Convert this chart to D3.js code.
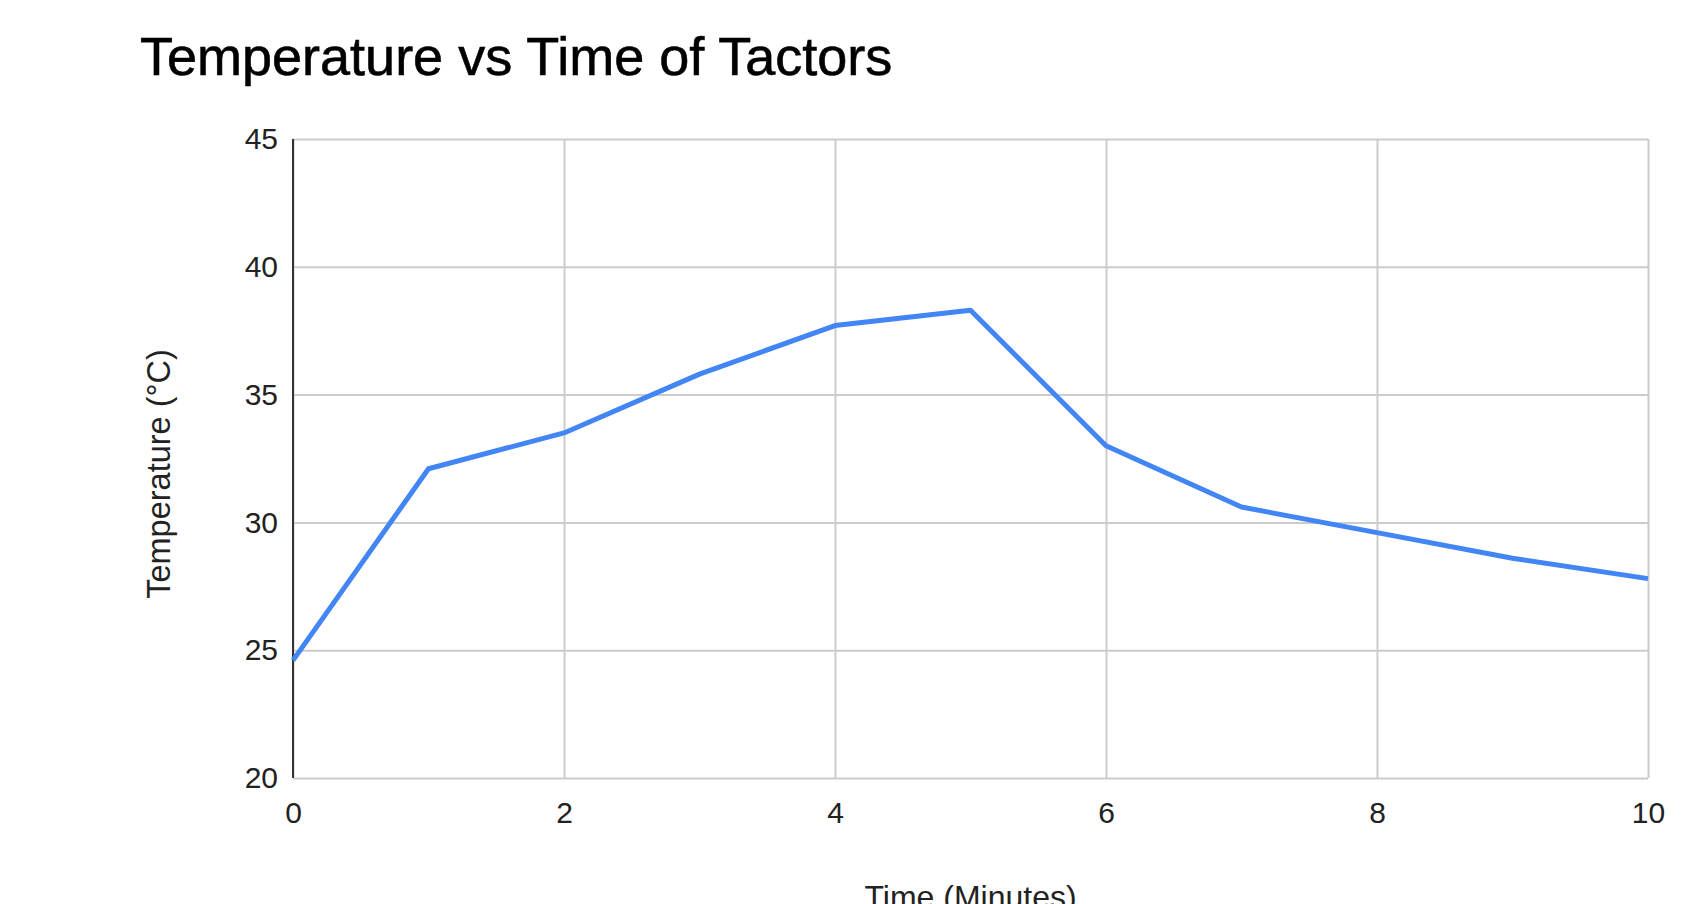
<!DOCTYPE html>
<html>
<head>
<meta charset="utf-8">
<script src="https://cdn.jsdelivr.net/npm/d3@7"></script>
<style>
  body { margin: 0; background: #fff; }
  text { font-family: "Liberation Sans", Arial, sans-serif; }
</style>
</head>
<body>
<div id="chart"></div>
<script>
const minutes = [0, 1, 2, 3, 4, 5, 6, 7, 8, 9, 10];
const temps = [24.6, 32.1, 33.5, 35.8, 37.7, 38.3, 33.0, 30.6, 29.6, 28.6, 27.8];
const xTicks = [0, 2, 4, 6, 8, 10];
const yTicks = [20, 25, 30, 35, 40, 45];

const width = 1689, height = 904;
const margin = { top: 139, right: 41, bottom: 126, left: 293 };
const innerW = width - margin.left - margin.right;
const innerH = height - margin.top - margin.bottom;

const svg = d3.select("#chart").append("svg")
  .attr("width", width)
  .attr("height", height);

svg.append("text")
  .attr("x", 140)
  .attr("y", 75)
  .attr("font-size", 54)
  .attr("fill", "#000")
  .attr("stroke", "#000")
  .attr("stroke-width", 0.6)
  .text("Temperature vs Time of Tactors");

const g = svg.append("g")
  .attr("transform", `translate(${margin.left},${margin.top})`);

const x = d3.scaleLinear().domain([0, 10]).range([0, innerW]);
const y = d3.scaleLinear().domain([20, 45]).range([innerH, 0]);

// horizontal grid + y labels
const yAxis = g.append("g")
  .call(d3.axisLeft(y).tickValues(yTicks).tickSize(-innerW).tickPadding(15));
yAxis.select(".domain").remove();
yAxis.selectAll("line").attr("stroke", "#cccccc").attr("stroke-width", 2);
yAxis.selectAll("text").attr("font-size", 30).attr("fill", "#222")
  .attr("font-family", "Liberation Sans, Arial, sans-serif");

// vertical grid + x labels
const xAxis = g.append("g")
  .attr("transform", `translate(0,${innerH})`)
  .call(d3.axisBottom(x).tickValues(xTicks).tickSize(-innerH).tickPadding(24));
xAxis.select(".domain").remove();
xAxis.selectAll("line").attr("stroke", "#cccccc").attr("stroke-width", 2);
xAxis.selectAll("text").attr("font-size", 30).attr("fill", "#222")
  .attr("font-family", "Liberation Sans, Arial, sans-serif");

// left axis line
g.append("line")
  .attr("x1", 0).attr("x2", 0)
  .attr("y1", 0).attr("y2", innerH)
  .attr("stroke", "#333").attr("stroke-width", 2);

const line = d3.line()
  .x((d, i) => x(minutes[i]))
  .y(d => y(d));

g.append("path")
  .datum(temps)
  .attr("fill", "none")
  .attr("stroke", "#4285f4")
  .attr("stroke-width", 5)
  .attr("stroke-linejoin", "round")
  .attr("d", line);

svg.append("text")
  .attr("x", margin.left + innerW / 2)
  .attr("y", 908)
  .attr("text-anchor", "middle")
  .attr("font-size", 32)
  .attr("fill", "#222")
  .text("Time (Minutes)");

svg.append("text")
  .attr("transform", `translate(170,474) rotate(-90)`)
  .attr("text-anchor", "middle")
  .attr("font-size", 32.5)
  .attr("fill", "#222")
  .text("Temperature (°C)");
</script>
</body>
</html>
